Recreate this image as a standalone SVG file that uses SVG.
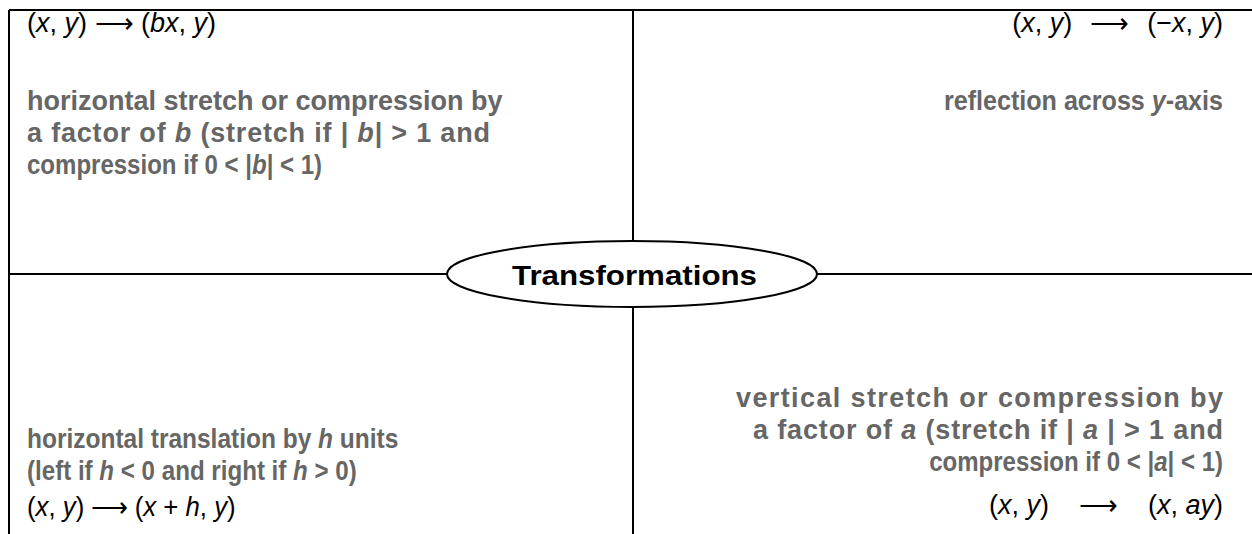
<svg xmlns="http://www.w3.org/2000/svg" width="1252" height="534" viewBox="0 0 1252 534">
<style>
.ln{stroke:#000;stroke-width:2;fill:none}
.f{font-family:"Liberation Sans",Arial,sans-serif;font-size:27px}
.d{fill:#666;font-weight:bold}
.m{fill:#000}
.i{font-style:italic}
.r{text-anchor:end}
.c{text-anchor:middle}
</style>
<g id="connectors">
<line class="ln" x1="9" y1="10" x2="1252" y2="10"/>
<line class="ln" x1="9" y1="10" x2="9" y2="534"/>
<line class="ln" x1="633" y1="10" x2="633" y2="534"/>
<line class="ln" x1="9" y1="274" x2="1252" y2="274"/>
</g>
<g id="center">
<ellipse cx="632" cy="274" rx="185" ry="33" fill="#fff" stroke="#000" stroke-width="2"/>
<text class="f" x="512" y="285" font-weight="bold" font-size="32" fill="#000" textLength="245" lengthAdjust="spacingAndGlyphs">Transformations</text>
</g>
<g id="q1">
<text class="f m" x="27" y="32">(<tspan class="i">x</tspan>, <tspan class="i">y</tspan>) ⟶ (<tspan class="i">bx</tspan>, <tspan class="i">y</tspan>)</text>
<text class="f d" x="27" y="110">horizontal stretch or compression by</text>
<text class="f d" x="27" y="142" textLength="463" lengthAdjust="spacing">a factor of <tspan class="i">b</tspan> (stretch if | <tspan class="i">b</tspan>| &gt; 1 and</text>
<text class="f d" transform="translate(27 174) scale(0.89 1)" x="0" y="0">compression if 0 &lt; |<tspan class="i">b</tspan>| &lt; 1)</text>
</g>
<g id="q2">
<text class="f m r" x="1223" y="32">(<tspan class="i">x</tspan>, <tspan class="i">y</tspan>)<tspan dx="18">⟶</tspan><tspan dx="18">(−</tspan><tspan class="i">x</tspan>, <tspan class="i">y</tspan>)</text>
<text class="f d r" transform="translate(1223 110) scale(0.93 1)" x="0" y="0">reflection across <tspan class="i">y</tspan>-axis</text>
</g>
<g id="q3">
<text class="f d" transform="translate(27 448) scale(0.907 1)" x="0" y="0">horizontal translation by <tspan class="i">h</tspan> units</text>
<text class="f d" transform="translate(27 480) scale(0.894 1)" x="0" y="0">(left if <tspan class="i">h</tspan> &lt; 0 and right if <tspan class="i">h</tspan> &gt; 0)</text>
<text class="f m" transform="translate(27 516) scale(0.955 1)" x="0" y="0">(<tspan class="i">x</tspan>, <tspan class="i">y</tspan>) ⟶ (<tspan class="i">x</tspan> + <tspan class="i">h</tspan>, <tspan class="i">y</tspan>)</text>
</g>
<g id="q4">
<text class="f d r" x="1223" y="407" textLength="487" lengthAdjust="spacing">vertical stretch or compression by</text>
<text class="f d r" x="1223" y="439" textLength="470" lengthAdjust="spacing">a factor of <tspan class="i">a</tspan> (stretch if | <tspan class="i">a</tspan> | &gt; 1 and</text>
<text class="f d r" transform="translate(1223 471) scale(0.89 1)" x="0" y="0">compression if 0 &lt; |<tspan class="i">a</tspan>| &lt; 1)</text>
<text class="f m r" x="1223" y="514">(<tspan class="i">x</tspan>, <tspan class="i">y</tspan>)<tspan dx="30">⟶</tspan><tspan dx="30">(</tspan><tspan class="i">x</tspan>, <tspan class="i">ay</tspan>)</text>
</g>
</svg>
